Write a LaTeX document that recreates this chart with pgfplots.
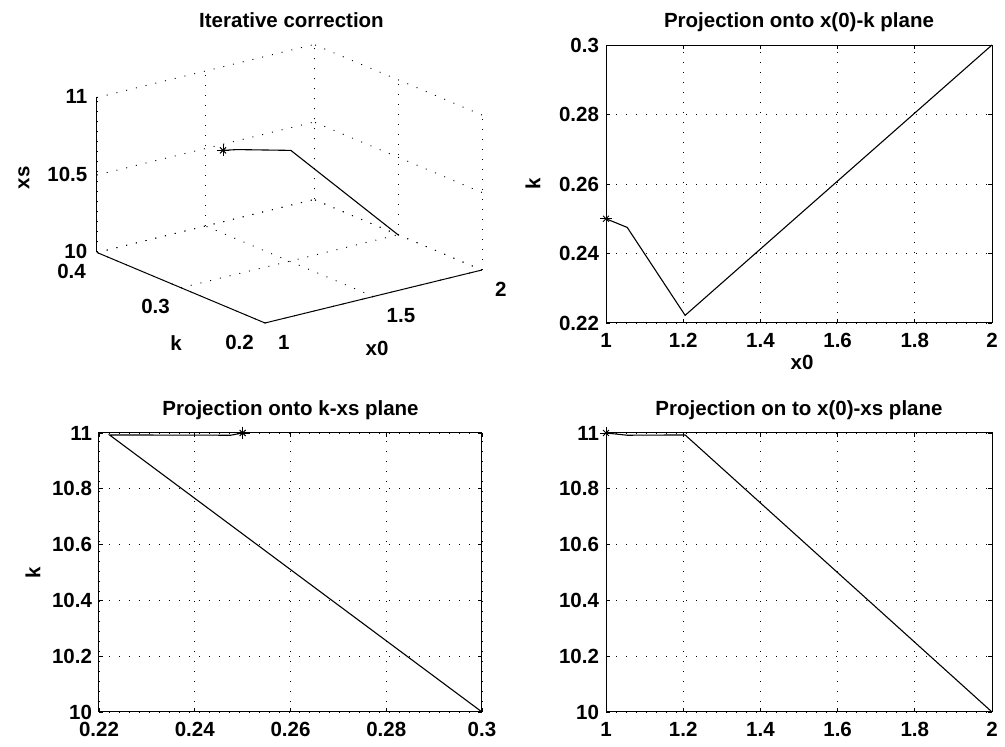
\documentclass[border=0pt]{standalone}
\usepackage{fontspec}
\setmainfont{Liberation Sans}
\usepackage{pgfplots}
\usepackage{pgfplotstable}
\pgfplotsset{compat=1.18}
\newcommand\fs{\fontsize{20.5}{24}\selectfont\bfseries}

\pgfplotstableread{
x0 k xs
2 0.3 10
1.205 0.2222 10.993
1.055 0.2475 10.992
1.0 0.25 11
}\path
\pgfplotstableread{
x0 k xs
1.0 0.25 11
}\fin

\pgfplotsset{
  common/.style={
    /pgf/number format/assume math mode=true,
    /pgf/number format/fixed,
    tick label style={font=\fs},
    label style={font=\fs},
    grid=major,
    major grid style={black, line width=0.9pt, dash pattern=on 1pt off 9pt},
    clip=false,
  },
  flat/.style={
    common,
    scale only axis,
    tick align=inside,
    major tick length=4pt,
    every tick/.style={black, line width=0.8pt},
    axis line style={black, line width=1pt},
    xticklabel style={yshift=-3pt},
  },
  dataline/.style={black, line width=1.1pt, mark=none},
  starA/.style={black, line width=0.9pt, only marks, mark=+, mark size=6pt},
  starB/.style={black, line width=0.9pt, only marks, mark=x, mark size=4.2pt},
}

\begin{document}
\fs
\begin{tikzpicture}[font=\fs]
\useasboundingbox (0,0) rectangle (1005pt,747pt);

% ---- 3D plot ----
\begin{axis}[
  common,
  at={(97pt,424pt)}, anchor=south west,
  x={(217pt,53pt)}, y={(-840pt,352.5pt)}, z={(0pt,155pt)},
  xmin=1, xmax=2, ymin=0.2, ymax=0.4, zmin=10, zmax=11,
  xtick={1,1.5,2}, ytick={0.2,0.3,0.4}, ztick={10,10.5,11},
  axis line style={draw=none},
  major tick length=0pt,
  xticklabel style={anchor=north west, inner sep=0pt, xshift=13pt, yshift=-12pt},
  yticklabel style={anchor=north east, inner sep=0pt, xshift=-11pt, yshift=-11.5pt},
  zticklabel style={anchor=east, inner sep=0pt, xshift=-9.5pt, yshift=1pt},
]
\draw[black, line width=1pt] (axis cs:1,0.2,10) -- (axis cs:2,0.2,10);
\draw[black, line width=1pt] (axis cs:1,0.2,10) -- (axis cs:1,0.4,10);
\draw[black, line width=1pt] (axis cs:1,0.4,10) -- (axis cs:1,0.4,11);
\addplot3[dataline] table[x=x0, y=k, z=xs] {\path};
\addplot3[starA] table[x=x0, y=k, z=xs] {\fin};
\addplot3[starB] table[x=x0, y=k, z=xs] {\fin};
\end{axis}

% ---- top right: x0-k ----
\begin{axis}[
  flat,
  at={(606pt,424pt)}, anchor=south west,
  width=386pt, height=278pt,
  xmin=1, xmax=2, ymin=0.22, ymax=0.3,
  xtick={1,1.2,1.4,1.6,1.8,2},
  ytick={0.22,0.24,0.26,0.28,0.3},
]
\addplot[dataline] table[x=x0, y=k] {\path};
\addplot[starA] table[x=x0, y=k] {\fin};
\addplot[starB] table[x=x0, y=k] {\fin};
\end{axis}

% ---- bottom left: k-xs ----
\begin{axis}[
  flat,
  at={(99pt,35pt)}, anchor=south west,
  width=383pt, height=279pt,
  xmin=0.22, xmax=0.3, ymin=10, ymax=11,
  xtick={0.22,0.24,0.26,0.28,0.3},
  ytick={10,10.2,10.4,10.6,10.8,11},
]
\addplot[dataline] table[x=k, y=xs] {\path};
\addplot[starA] table[x=k, y=xs] {\fin};
\addplot[starB] table[x=k, y=xs] {\fin};
\end{axis}

% ---- bottom right: x0-xs ----
\begin{axis}[
  flat,
  at={(606pt,35pt)}, anchor=south west,
  width=386pt, height=279pt,
  xmin=1, xmax=2, ymin=10, ymax=11,
  xtick={1,1.2,1.4,1.6,1.8,2},
  ytick={10,10.2,10.4,10.6,10.8,11},
]
\addplot[dataline] table[x=x0, y=xs] {\path};
\addplot[starA] table[x=x0, y=xs] {\fin};
\addplot[starB] table[x=x0, y=xs] {\fin};
\end{axis}

% ---- titles and labels ----
\node[anchor=base] at (291.5pt,719pt) {Iterative correction};
\node[anchor=base] at (799pt,719pt) {Projection onto x(0)-k plane};
\node[anchor=base] at (290.5pt,331pt) {Projection onto k-xs plane};
\node[anchor=base] at (799pt,331pt) {Projection on to x(0)-xs plane};
\node[rotate=90] at (24pt,569pt) {xs};
\node at (176pt,404pt) {k};
\node at (377pt,399pt) {x0};
\node at (802pt,385pt) {x0};
\node[rotate=90] at (533pt,563pt) {k};
\node[rotate=90] at (33pt,174pt) {k};
\end{tikzpicture}
\end{document}
